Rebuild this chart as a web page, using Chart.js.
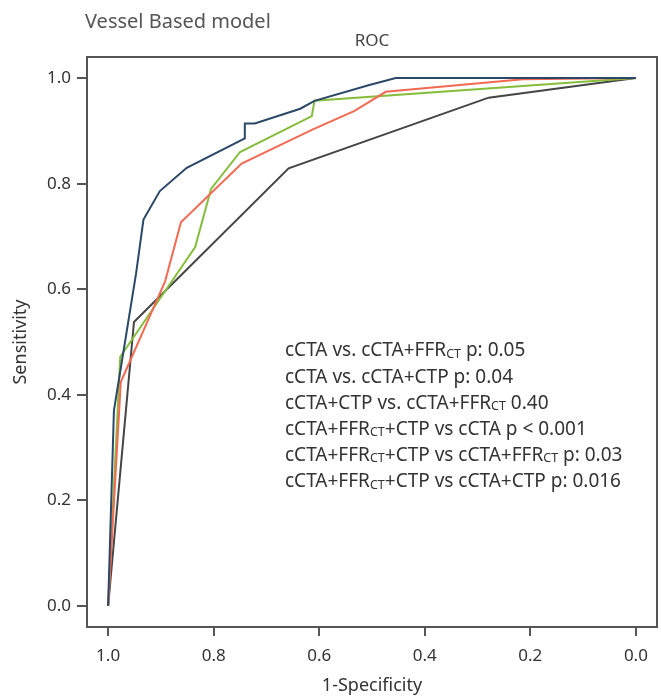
<!DOCTYPE html>
<html>
<head>
<meta charset="utf-8">
<script src="https://cdn.jsdelivr.net/npm/chart.js@4.4.1/dist/chart.umd.min.js"></script>
<style>
  body { margin: 0; background: #fff; }
  #wrap { width: 661px; height: 697px; }
</style>
</head>
<body>
<div id="wrap"><canvas id="myChart" width="661" height="697"></canvas></div>
<script>
// axis ticks (x axis runs 1.0 -> 0.0)
const xTicks = [1.0, 0.8, 0.6, 0.4, 0.2, 0.0]
const yTicks = [0.0, 0.2, 0.4, 0.6, 0.8, 1.0]

// ROC curves: x = tick value, y = sensitivity
const cctaFfrCtpX = [1.0, 0.989, 0.947, 0.933, 0.902, 0.851, 0.741, 0.741, 0.722, 0.636, 0.609, 0.505, 0.455, 0.0]
const cctaFfrCtpY = [0.0, 0.370, 0.630, 0.732, 0.786, 0.830, 0.886, 0.914, 0.914, 0.942, 0.957, 0.987, 1.0, 1.0]

const cctaFfrX = [1.0, 0.976, 0.892, 0.862, 0.747, 0.612, 0.533, 0.474, 0.214, 0.0]
const cctaFfrY = [0.0, 0.424, 0.615, 0.727, 0.838, 0.903, 0.938, 0.974, 0.998, 1.0]

const cctaCtpX = [1.0, 0.977, 0.835, 0.805, 0.750, 0.614, 0.609, 0.0]
const cctaCtpY = [0.0, 0.472, 0.680, 0.790, 0.860, 0.928, 0.957, 1.0]

const cctaX = [1.0, 0.951, 0.658, 0.279, 0.0]
const cctaY = [0.0, 0.538, 0.829, 0.963, 1.0]

// p-value notes, [text, isSubscript]
const notes = [
  [["cCTA vs. cCTA+FFR", false], ["CT", true], [" p: 0.05", false]],
  [["cCTA vs. cCTA+CTP p: 0.04", false]],
  [["cCTA+CTP vs. cCTA+FFR", false], ["CT", true], [" 0.40", false]],
  [["cCTA+FFR", false], ["CT", true], ["+CTP vs cCTA p < 0.001", false]],
  [["cCTA+FFR", false], ["CT", true], ["+CTP vs cCTA+FFR", false], ["CT", true], [" p: 0.03", false]],
  [["cCTA+FFR", false], ["CT", true], ["+CTP vs cCTA+CTP p: 0.016", false]]
]

const fontFamily = "'Noto Sans', 'Open Sans', sans-serif"

const toPoints = (xs, ys) => xs.map((x, i) => ({ x: x, y: ys[i] }))

// frame, headings and the note block
const extrasPlugin = {
  id: 'extras',
  afterDraw(chart) {
    const ctx = chart.ctx
    const area = chart.chartArea
    ctx.save()
    ctx.strokeStyle = '#555'
    ctx.lineWidth = 2
    ctx.strokeRect(area.left, area.top, area.right - area.left, area.bottom - area.top)

    ctx.fillStyle = '#555'
    ctx.textBaseline = 'middle'
    ctx.textAlign = 'left'
    ctx.font = `20px ${fontFamily}`
    ctx.fillText('Vessel Based model', 85, 22)

    ctx.fillStyle = '#444'
    ctx.textAlign = 'center'
    ctx.font = `17px ${fontFamily}`
    ctx.fillText('ROC', (area.left + area.right) / 2, 41)

    ctx.fillStyle = '#333'
    ctx.textAlign = 'left'
    notes.forEach((line, i) => {
      let x = 285
      const y = 351 + i * 26.2
      line.forEach(([text, sub]) => {
        ctx.font = sub ? `12.5px ${fontFamily}` : `19px ${fontFamily}`
        ctx.fillText(text, x, sub ? y + 3 : y)
        x += ctx.measureText(text).width
      })
    })
    ctx.restore()
  }
}

const ctx = document.querySelector('#myChart')

const lineSet = (label, data, color) => ({
  label: label,
  data: data,
  borderColor: color,
  backgroundColor: color,
  borderWidth: 2,
  pointRadius: 0,
  tension: 0,
  fill: false
})

new Chart(ctx, {
  type: 'line',
  data: {
    datasets: [
      // first dataset is drawn on top
      lineSet('cCTA+FFRct+CTP', toPoints(cctaFfrCtpX, cctaFfrCtpY), '#2b4868'),
      lineSet('cCTA+FFRct', toPoints(cctaFfrX, cctaFfrY), '#f26a52'),
      lineSet('cCTA+CTP', toPoints(cctaCtpX, cctaCtpY), '#86bd3c'),
      lineSet('cCTA', toPoints(cctaX, cctaY), '#454545')
    ]
  },
  options: {
    responsive: false,
    animation: false,
    layout: { padding: { top: 57, right: 4, left: 0, bottom: 0 } },
    plugins: {
      legend: { display: false },
      tooltip: { enabled: false }
    },
    scales: {
      x: {
        type: 'linear',
        reverse: true,
        min: -0.04,
        max: 1.04,
        afterBuildTicks: scale => { scale.ticks = xTicks.map(v => ({ value: v })) },
        afterFit: scale => { scale.height = 70 },
        grid: { drawOnChartArea: false, drawTicks: true, tickLength: 9, color: '#555', lineWidth: 2 },
        border: { display: false },
        ticks: {
          padding: 10,
          color: '#333',
          font: { family: fontFamily, size: 17 },
          callback: v => v.toFixed(1)
        },
        title: {
          display: true,
          text: '1-Specificity',
          color: '#333',
          font: { family: fontFamily, size: 18 },
          padding: { top: 0, bottom: 0 }
        }
      },
      y: {
        type: 'linear',
        min: -0.04,
        max: 1.04,
        afterBuildTicks: scale => { scale.ticks = yTicks.map(v => ({ value: v })) },
        afterFit: scale => { scale.width = 87 },
        grid: { drawOnChartArea: false, drawTicks: true, tickLength: 10, color: '#555', lineWidth: 2 },
        border: { display: false },
        ticks: {
          padding: 6,
          color: '#333',
          font: { family: fontFamily, size: 17 },
          callback: v => v.toFixed(1)
        },
        title: {
          display: true,
          text: 'Sensitivity',
          color: '#333',
          font: { family: fontFamily, size: 18 },
          padding: { top: 10, bottom: 0 }
        }
      }
    }
  },
  plugins: [extrasPlugin]
})
</script>
</body>
</html>
